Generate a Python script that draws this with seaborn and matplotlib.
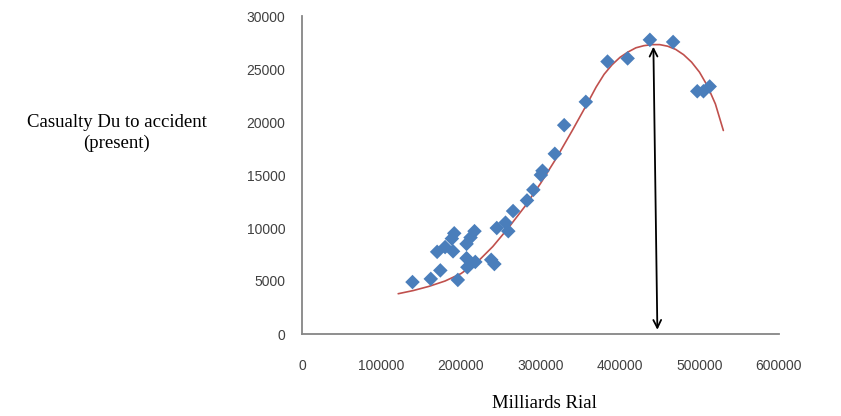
import numpy as np
import pandas as pd
import matplotlib
matplotlib.use("Agg")
import matplotlib.pyplot as plt
import seaborn as sns

# data
budget = [139000, 162000, 174000, 196000, 170000, 180000, 190000, 188500,
          191500, 207000, 212000, 217000, 207000, 208000, 218000, 238000,
          242000, 245000, 256000, 259500, 265500, 283000, 291000, 300500,
          302500, 318000, 329800, 357000, 384300, 409600, 437600, 466800,
          497200, 505000, 512800]
casualty = [4900, 5200, 6000, 5100, 7750, 8200, 7800, 9000,
            9500, 8500, 9100, 9700, 7150, 6300, 6800, 7000,
            6600, 10000, 10500, 9700, 11600, 12600, 13600, 15000,
            15400, 17000, 19700, 21900, 25700, 26000, 27750, 27550,
            22900, 22900, 23350]

# red trendline
trend_x = [121000, 140000, 160000, 180000, 200000, 220000, 240000, 260000,
           280000, 300000, 320000, 340000, 360000, 370000, 380000, 390000,
           400000, 410000, 420000, 430000, 440000, 450000, 460000, 470000,
           480000, 490000, 500000, 510000, 520000, 530000]
trend_y = [3800, 4100, 4500, 5000, 5700, 6750, 8250, 10050,
           12000, 14200, 16600, 19200, 21900, 23300, 24500, 25400,
           26100, 26600, 27000, 27200, 27300, 27300, 27150, 26850,
           26350, 25650, 24700, 23400, 21700, 19200]

arrow_top = (442000, 27100)
arrow_bottom = (447000, 400)
x_ticks = [0, 100000, 200000, 300000, 400000, 500000, 600000]
y_ticks = [0, 5000, 10000, 15000, 20000, 25000, 30000]

df = pd.DataFrame({"budget": budget, "casualty": casualty})
trend = pd.DataFrame({"budget": trend_x, "casualty": trend_y})

sns.set_style("white")
fig = plt.figure(figsize=(8.41, 4.16), dpi=100)
ax = fig.add_axes([302 / 841, 1 - 334 / 416, 477 / 841, 318 / 416])

sns.lineplot(data=trend, x="budget", y="casualty", color="#C0504D", lw=1.2,
             ax=ax, sort=True)

sns.scatterplot(data=df, x="budget", y="casualty", marker="D", s=55,
                color="#4A7EBB", edgecolor="none", ax=ax, zorder=3)

ax.annotate("", xy=arrow_top, xytext=arrow_bottom,
            arrowprops=dict(arrowstyle="<->", color="black", lw=1.3,
                            mutation_scale=14, shrinkA=0, shrinkB=0))

ax.set_xlim(0, 600000)
ax.set_ylim(0, 30000)
ax.set_xticks(x_ticks)
ax.set_yticks(y_ticks)
ax.set_xticklabels([str(t) for t in x_ticks])
ax.set_yticklabels([str(t) for t in y_ticks])

for s in ["top", "right"]:
    ax.spines[s].set_visible(False)
for s in ["left", "bottom"]:
    ax.spines[s].set_color("#868686")
    ax.spines[s].set_linewidth(1.3)
ax.tick_params(axis="both", direction="out", length=5, width=1,
               color="#868686", labelcolor="#404040", labelsize=10)
for lab in ax.get_xticklabels() + ax.get_yticklabels():
    lab.set_family("Liberation Sans")
ax.tick_params(axis="x", pad=13)
ax.tick_params(axis="y", pad=7)

ax.set_xlabel("Milliards Rial", family="Liberation Serif", fontsize=13.5,
              color="black", va="center")
ax.xaxis.set_label_coords(0.509, -0.22)
ax.set_ylabel("Casualty Du to accident\n(present)", family="Liberation Serif",
              fontsize=13.5, color="black", rotation=0, ha="center",
              va="center", linespacing=1.35)
ax.yaxis.set_label_coords(-0.388, 0.632)

fig.savefig("out.png", dpi=100)
